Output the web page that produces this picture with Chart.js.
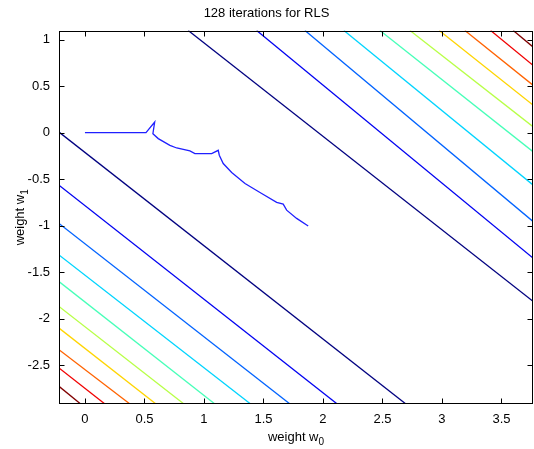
<!DOCTYPE html>
<html>
<head>
<meta charset="utf-8">
<title>128 iterations for RLS</title>
<script src="https://cdn.jsdelivr.net/npm/chart.js@4.4.1/dist/chart.umd.min.js"></script>
<style>
  html, body { margin: 0; padding: 0; background: #fff; }
  #wrap { width: 534px; height: 449px; position: relative; }
</style>
</head>
<body>
<div id="wrap"><canvas id="rls"></canvas></div>
<script>
// ---- axis limits and ticks (w0 across, w1 up) ----
const w0Range = [-0.218, 3.765];
const w1Range = [-2.917, 1.097];
const w0Ticks = [0, 0.5, 1, 1.5, 2, 2.5, 3, 3.5];
const w1Ticks = [-2.5, -2, -1.5, -1, -0.5, 0, 0.5, 1];

// contour colours, inner level (dark blue) to outer level (dark red)
const levelColors = ['#000080', '#0000f1', '#0063ff', '#00d4ff', '#47ffb8',
                     '#b8ff47', '#ffd400', '#ff6300', '#f10000', '#800000'];

// lower-left contours: w1 where each meets the left edge, w0 where it meets the bottom
const lowLeftW1   = [0.006, -0.565, -0.977, -1.315, -1.601, -1.869, -2.101, -2.333, -2.530, -2.727];
const lowBottomW0 = [2.697, 2.120, 1.723, 1.392, 1.092, 0.832, 0.597, 0.378, 0.168, -0.036];

// upper-right contours: w0 where each meets the top edge, w1 where it meets the right
const highTopW0   = [0.868, 1.443, 1.849, 2.176, 2.479, 2.731, 2.977, 3.193, 3.409, 3.599];
const highRightW1 = [-1.812, -1.348, -0.954, -0.562, -0.204, 0.064, 0.296, 0.510, 0.724, 0.922];

// RLS weight trajectory
const pathW0 = [0, 0.513, 0.586, 0.571, 0.616, 0.714, 0.771, 0.882, 0.924, 1.065, 1.120,
                1.129, 1.162, 1.233, 1.345, 1.485, 1.611, 1.666, 1.695, 1.779, 1.876];
const pathW1 = [0, 0, 0.114, -0.011, -0.064, -0.136, -0.165, -0.197, -0.225, -0.225, -0.190,
                -0.243, -0.332, -0.429, -0.547, -0.654, -0.750, -0.768, -0.833, -0.922, -1.004];

const FONT = 'Liberation Sans, Arial, Helvetica, sans-serif';

function contourSet(color, a, b) {
  return {
    data: [a, b],
    borderColor: color,
    borderWidth: 1.3,
    showLine: true,
    pointRadius: 0,
    tension: 0
  };
}

const datasets = [];
levelColors.forEach((c, i) => {
  datasets.push(contourSet(c, { x: w0Range[0], y: lowLeftW1[i] }, { x: lowBottomW0[i], y: w1Range[0] }));
  datasets.push(contourSet(c, { x: highTopW0[i], y: w1Range[1] }, { x: w0Range[1], y: highRightW1[i] }));
});
datasets.push({
  data: pathW0.map((v, i) => ({ x: v, y: pathW1[i] })),
  borderColor: '#2020ff',
  borderWidth: 1.3,
  showLine: true,
  pointRadius: 0,
  tension: 0
});

// matlab style box, inward ticks on all four sides, subscripted axis labels
const matlabAxes = {
  id: 'matlabAxes',
  afterDraw(chart) {
    const { ctx, chartArea: a, scales: { x, y } } = chart;
    const L = Math.round(a.left) + 0.5, R = Math.round(a.right) - 0.5;
    const T = Math.round(a.top) + 0.5, B = Math.round(a.bottom) - 0.5;
    ctx.save();
    ctx.strokeStyle = '#000';
    ctx.lineWidth = 1;
    ctx.beginPath();
    w0Ticks.forEach(v => {
      const px = Math.round(x.getPixelForValue(v)) + 0.5;
      ctx.moveTo(px, B); ctx.lineTo(px, B - 5);
      ctx.moveTo(px, T); ctx.lineTo(px, T + 5);
    });
    w1Ticks.forEach(v => {
      const py = Math.round(y.getPixelForValue(v)) + 0.5;
      ctx.moveTo(L, py); ctx.lineTo(L + 5, py);
      ctx.moveTo(R, py); ctx.lineTo(R - 5, py);
    });
    ctx.stroke();
    ctx.strokeRect(L, T, R - L, B - T);

    // axis labels
    ctx.fillStyle = '#000';
    ctx.textBaseline = 'alphabetic';
    const drawSub = (main, sub, cx, cy) => {
      ctx.font = '13px ' + FONT;
      const w1 = ctx.measureText(main).width;
      ctx.font = '10px ' + FONT;
      const w2 = ctx.measureText(sub).width;
      const start = cx - (w1 + w2) / 2;
      ctx.font = '13px ' + FONT;
      ctx.textAlign = 'left';
      ctx.fillText(main, start, cy);
      ctx.font = '10px ' + FONT;
      ctx.fillText(sub, start + w1, cy + 4);
    };
    drawSub('weight w', '0', (a.left + a.right) / 2, 441);
    ctx.translate(24, (a.top + a.bottom) / 2);
    ctx.rotate(-Math.PI / 2);
    drawSub('weight w', '1', 0, 0);
    ctx.restore();
  }
};

new Chart(document.getElementById('rls'), {
  type: 'scatter',
  data: { datasets },
  options: {
    responsive: true,
    maintainAspectRatio: false,
    animation: false,
    layout: { padding: { top: 0, right: 1, left: 0, bottom: 0 } },
    plugins: {
      legend: { display: false },
      tooltip: { enabled: false },
      title: {
        display: true,
        text: '128 iterations for RLS',
        color: '#000',
        font: { family: FONT, size: 13, weight: 'normal' },
        padding: { top: 6, bottom: 9 }
      }
    },
    scales: {
      x: {
        type: 'linear',
        min: w0Range[0],
        max: w0Range[1],
        afterBuildTicks: s => { s.ticks = w0Ticks.map(v => ({ value: v })); },
        afterFit: s => { s.height = 45; },
        grid: { display: false, drawTicks: false },
        border: { display: false },
        ticks: { color: '#000', font: { family: FONT, size: 13 }, padding: 8, maxRotation: 0, autoSkip: false, callback: v => String(v) }
      },
      y: {
        type: 'linear',
        min: w1Range[0],
        max: w1Range[1],
        afterBuildTicks: s => { s.ticks = w1Ticks.map(v => ({ value: v })); },
        afterFit: s => { s.width = 59; },
        grid: { display: false, drawTicks: false },
        border: { display: false },
        ticks: { color: '#000', font: { family: FONT, size: 13 }, padding: 9, autoSkip: false, callback: v => String(v) }
      }
    }
  },
  plugins: [matlabAxes]
});
</script>
</body>
</html>
